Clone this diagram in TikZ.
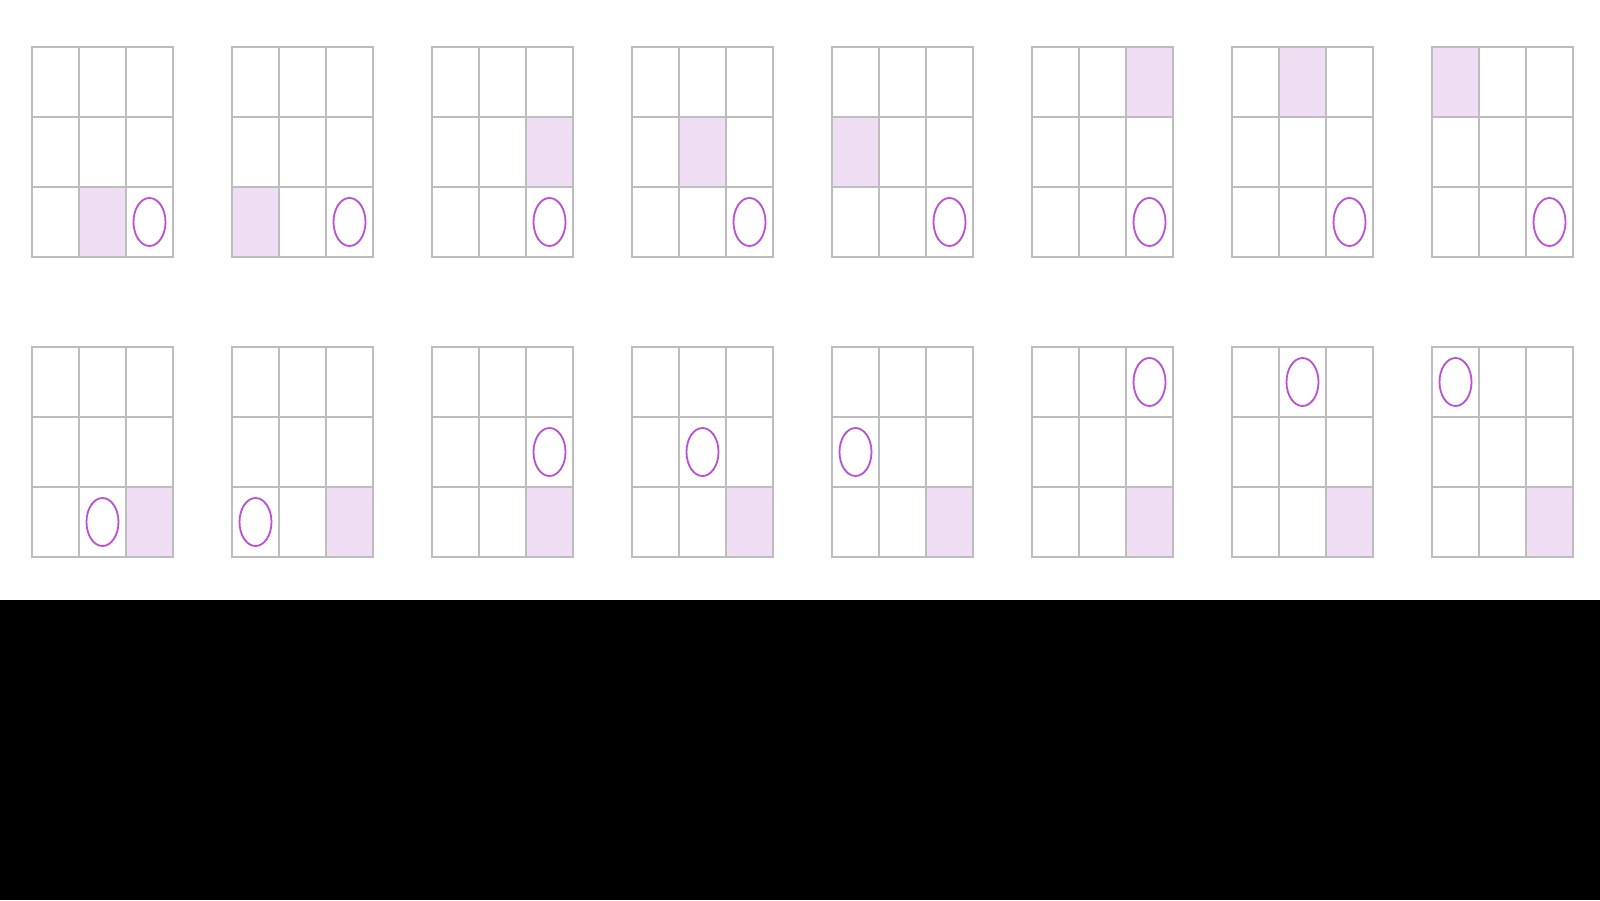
\documentclass[tikz,border=0pt]{standalone}
\definecolor{gridgray}{HTML}{BDBDBD}
\definecolor{cellfill}{HTML}{EFDDF4}
\definecolor{ovalc}{HTML}{BB4FD8}
\tikzset{
  gridline/.style={draw=gridgray, line width=2pt, line cap=rect},
  shaded/.style={fill=cellfill},
  oval/.style={draw=ovalc, line width=1.8pt},
  pics/board/.style={code={
    \foreach \k in {0,1,2,3}{
      \draw[gridline] (47*\k,0) -- (47*\k,210);
      \draw[gridline] (0,70*\k) -- (141,70*\k);
    }
  }},
}
\begin{document}
\begin{tikzpicture}[x=1pt,y=-1pt]
\useasboundingbox (0,0) rectangle (1600,900);
\fill[white] (0,0) rectangle (1600,600);
\fill[black] (0,600) rectangle (1600,900);
% cell sequence: index -> (row, col)
\foreach \i/\r/\c in {0/2/1,1/2/0,2/1/2,3/1/1,4/1/0,5/0/2,6/0/1,7/0/0}{
  % top row: shaded moves, oval fixed at (2,2)
  \begin{scope}[shift={(32+200*\i,47)}]
    \fill[shaded] (47*\c,70*\r) rectangle ++(47,70);
    \pic {board};
    \draw[oval] (117.5,175) ellipse [x radius=16, y radius=24];
  \end{scope}
  % bottom row: shaded fixed at (2,2), oval moves
  \begin{scope}[shift={(32+200*\i,347)}]
    \fill[shaded] (94,140) rectangle ++(47,70);
    \pic {board};
    \draw[oval] (47*\c+23.5,70*\r+35) ellipse [x radius=16, y radius=24];
  \end{scope}
}
\end{tikzpicture}
\end{document}
